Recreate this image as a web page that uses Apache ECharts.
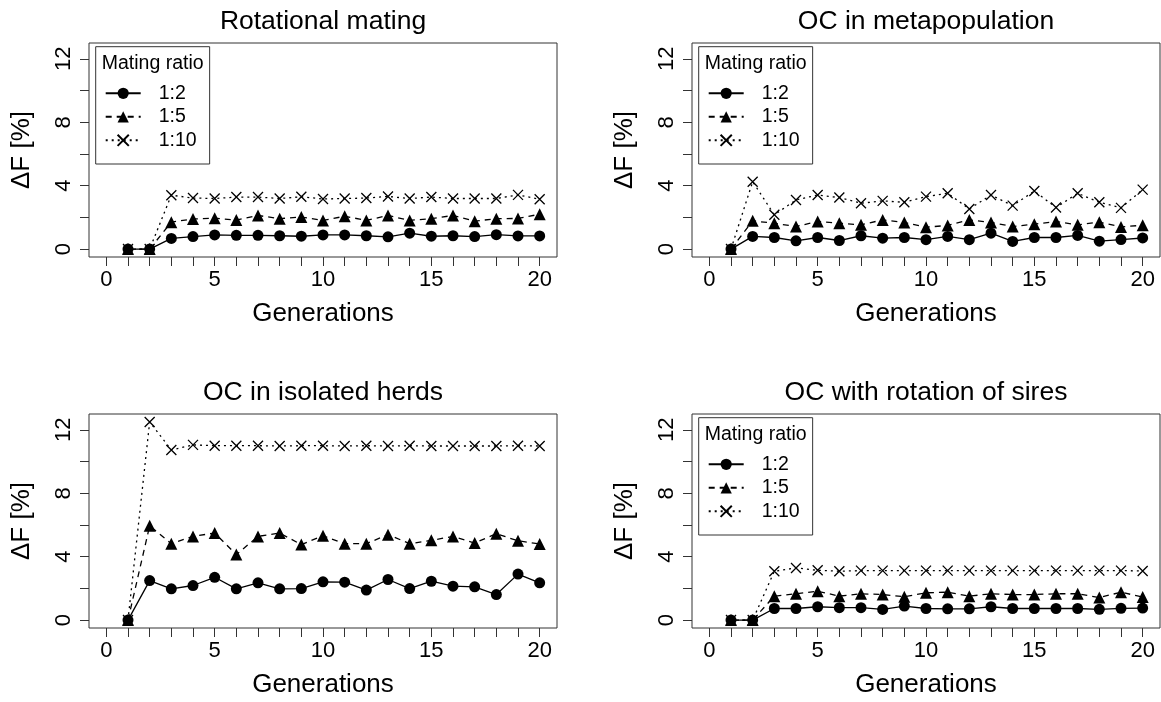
<!DOCTYPE html>
<html>
<head>
<meta charset="utf-8">
<script src="https://cdn.jsdelivr.net/npm/echarts@6/dist/echarts.min.js"></script>
<style>
  html, body { margin: 0; padding: 0; background: #fff; }
  #chart { width: 1161px; height: 702px; }
</style>
</head>
<body>
<div id="chart"></div>
<script>
// 数据：每个面板三条曲线（交配比例 1:2, 1:5, 1:10），单位 ΔF [%]
const generations = [1, 2, 3, 4, 5, 6, 7, 8, 9, 10, 11, 12, 13, 14, 15, 16, 17, 18, 19, 20];
const ratioNames = ['1:2', '1:5', '1:10'];
const panelTitles = ['Rotational mating', 'OC in metapopulation', 'OC in isolated herds', 'OC with rotation of sires'];

const xTicks = [0, 1, 2, 3, 4, 5, 6, 7, 8, 9, 10, 11, 12, 13, 14, 15, 16, 17, 18, 19, 20];
const xLabels = [0, 5, 10, 15, 20];
const yTicks = [0, 2, 4, 6, 8, 10, 12];
const yLabels = [0, 4, 8, 12];

const rotational12 = [0, 0, 0.67, 0.79, 0.89, 0.87, 0.87, 0.84, 0.81, 0.89, 0.89, 0.84, 0.77, 1.0, 0.81, 0.84, 0.79, 0.91, 0.83, 0.83];
const rotational15 = [0, 0, 1.70, 1.90, 1.95, 1.83, 2.12, 1.92, 2.02, 1.81, 2.07, 1.81, 2.12, 1.81, 1.92, 2.12, 1.76, 1.92, 1.93, 2.20];
const rotational110 = [0, 0, 3.40, 3.22, 3.19, 3.28, 3.28, 3.19, 3.30, 3.16, 3.19, 3.22, 3.32, 3.19, 3.28, 3.19, 3.19, 3.19, 3.42, 3.14];

const metapop12 = [0, 0.80, 0.73, 0.52, 0.73, 0.54, 0.84, 0.69, 0.73, 0.59, 0.80, 0.59, 1.00, 0.48, 0.73, 0.73, 0.86, 0.50, 0.60, 0.70];
const metapop15 = [0, 1.78, 1.63, 1.42, 1.74, 1.63, 1.53, 1.84, 1.68, 1.38, 1.49, 1.84, 1.68, 1.42, 1.57, 1.74, 1.53, 1.70, 1.40, 1.50];
const metapop110 = [0, 4.25, 2.16, 3.10, 3.41, 3.25, 2.89, 3.04, 2.95, 3.31, 3.52, 2.53, 3.41, 2.74, 3.66, 2.62, 3.52, 2.95, 2.60, 3.75];

const isolated12 = [0, 2.49, 1.97, 2.18, 2.70, 1.97, 2.35, 1.97, 1.99, 2.41, 2.39, 1.89, 2.56, 1.99, 2.45, 2.14, 2.10, 1.61, 2.90, 2.35];
const isolated15 = [0, 5.95, 4.82, 5.28, 5.49, 4.13, 5.28, 5.49, 4.76, 5.32, 4.82, 4.82, 5.39, 4.82, 5.03, 5.28, 4.86, 5.45, 5.00, 4.80];
const isolated110 = [0, 12.5, 10.73, 11.05, 11.0, 11.0, 11.0, 10.98, 11.0, 11.0, 10.98, 11.0, 10.98, 11.0, 10.98, 10.98, 10.98, 10.98, 11.0, 10.98];

const sires12 = [0, 0, 0.73, 0.73, 0.84, 0.78, 0.78, 0.67, 0.88, 0.73, 0.71, 0.71, 0.84, 0.73, 0.73, 0.73, 0.73, 0.68, 0.74, 0.76];
const sires15 = [0, 0, 1.51, 1.66, 1.82, 1.51, 1.66, 1.61, 1.47, 1.72, 1.76, 1.51, 1.66, 1.61, 1.61, 1.66, 1.66, 1.42, 1.76, 1.45];
const sires110 = [0, 0, 3.08, 3.29, 3.14, 3.08, 3.12, 3.12, 3.12, 3.12, 3.12, 3.12, 3.12, 3.12, 3.12, 3.12, 3.12, 3.12, 3.12, 3.10];

const panelData = [
    [rotational12, rotational15, rotational110],
    [metapop12, metapop15, metapop110],
    [isolated12, isolated15, isolated110],
    [sires12, sires15, sires110]
];

// 布局（像素）
const FONT = '"Liberation Sans", Arial, Helvetica, sans-serif';
const panelLeft = [89, 692, 89, 692];
const panelTop = [43, 43, 414, 414];
const PW = 468, PH = 214;
const withLegend = [true, true, false, true];

// 线型：实线+圆点，虚线+三角，点线+叉
const symbols = ['circle', 'triangle', 'path://M0,0L10,10M10,0L0,10'];
const symbolSizes = [11, 12, 10];
const lineTypes = ['solid', [6, 5], [2, 4]];

const grids = [], xAxes = [], yAxes = [], titles = [], legends = [], series = [];

panelData.forEach((lines, p) => {
    const left = panelLeft[p], top = panelTop[p];

    grids.push({
        left: left, top: top, width: PW, height: PH,
        show: true, borderColor: '#333', borderWidth: 1, backgroundColor: 'transparent'
    });

    xAxes.push({
        gridIndex: p, type: 'value', min: -0.8, max: 20.8,
        axisLine: { show: false, onZero: false }, splitLine: { show: false },
        axisTick: { show: true, length: 9, customValues: xTicks, lineStyle: { color: '#333' } },
        axisLabel: { customValues: xLabels, margin: 12, fontSize: 22, color: '#000', fontFamily: FONT },
        name: 'Generations', nameLocation: 'middle', nameGap: 44,
        nameTextStyle: { fontSize: 26, color: '#000', fontFamily: FONT }
    });

    yAxes.push({
        gridIndex: p, type: 'value', min: -0.5, max: 13,
        axisLine: { show: false, onZero: false }, splitLine: { show: false },
        axisTick: { show: true, length: 9, customValues: yTicks, lineStyle: { color: '#333' } },
        axisLabel: { customValues: yLabels, rotate: 90, margin: 14, fontSize: 22, color: '#000', fontFamily: FONT },
        name: 'ΔF [%]', nameLocation: 'middle', nameGap: 54,
        nameTextStyle: { fontSize: 26, color: '#000', fontFamily: FONT }
    });

    titles.push({
        text: panelTitles[p], left: left + PW / 2, top: top - 35, textAlign: 'center', padding: 0,
        textStyle: { fontSize: 26.5, fontWeight: 'normal', color: '#000', fontFamily: FONT }
    });

    if (withLegend[p]) {
        titles.push({
            text: 'Mating ratio', left: left + 12.7, top: top + 10.3, padding: 0,
            textStyle: { fontSize: 19.5, fontWeight: 'normal', color: '#000', fontFamily: FONT }
        });
        legends.push({
            orient: 'vertical', left: left + 6.7, top: top + 3.7,
            padding: [36.6, 13, 13.7, 9],
            borderColor: '#333', borderWidth: 1, backgroundColor: '#fff',
            itemWidth: 35, itemHeight: 14, itemGap: 3.5,
            data: ratioNames,
            selectedMode: false,
            textStyle: { fontSize: 19.5, color: '#000', fontFamily: FONT, padding: [0, 0, 0, 13] }
        });
    }

    lines.forEach((vals, k) => {
        series.push({
            name: ratioNames[k], type: 'line',
            xAxisIndex: p, yAxisIndex: p,
            data: generations.map((g, i) => [g, vals[i]]),
            symbol: symbols[k], symbolSize: symbolSizes[k], showAllSymbol: true,
            itemStyle: { color: k === 2 ? 'none' : '#000', borderColor: '#000', borderWidth: k === 2 ? 1.3 : 0 },
            lineStyle: { color: '#000', width: 1.3, type: lineTypes[k] },
            z: 3 - k
        });
    });
});

const chart = echarts.init(document.getElementById('chart'), null, { renderer: 'canvas' });
chart.setOption({
    animation: false,
    backgroundColor: '#fff',
    textStyle: { fontFamily: FONT },
    title: titles,
    legend: legends,
    grid: grids,
    xAxis: xAxes,
    yAxis: yAxes,
    series: series
});
</script>
</body>
</html>
